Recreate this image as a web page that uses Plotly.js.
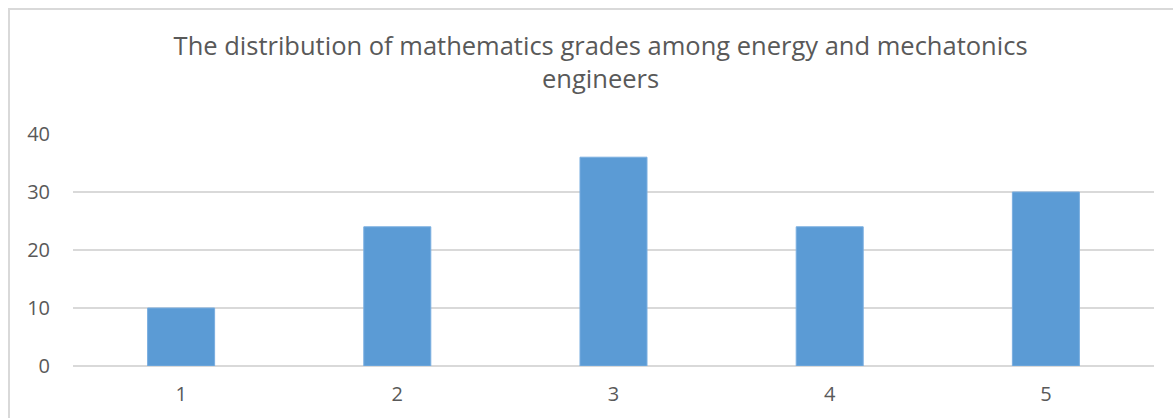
<!DOCTYPE html>
<html>
<head>
<meta charset="utf-8">
<script src="https://cdn.plot.ly/plotly-3.0.1.min.js"></script>
<style>
html,body{margin:0;padding:0;background:#fff;overflow:hidden;}
#frame{position:absolute;left:8px;top:8px;width:1200px;height:440px;border:2px solid #d9d9d9;box-sizing:border-box;}
#chart{position:absolute;left:0;top:0;width:1173px;height:418px;}
</style>
</head>
<body>
<div id="frame"></div>
<div id="chart"></div>
<script>
const categories = ['1', '2', '3', '4', '5'];
const values = [10, 24, 36, 24, 30];
const yTicks = [0, 10, 20, 30, 40];
const titleText = 'The distribution of mathematics grades among energy and mechatonics<br>engineers';

const trace = {
  type: 'bar',
  x: categories,
  y: values,
  marker: {color: '#5b9bd5', line: {color: '#7aaee0', width: 1}},
  hoverinfo: 'x+y'
};

const layout = {
  width: 1173,
  height: 418,
  paper_bgcolor: 'rgba(0,0,0,0)',
  plot_bgcolor: 'rgba(0,0,0,0)',
  margin: {l: 73, r: 19, t: 134, b: 52},
  bargap: 0.69,
  showlegend: false,
  font: {family: 'Open Sans, Liberation Sans, sans-serif', color: '#595959'},
  title: {
    text: titleText,
    font: {size: 25.5, color: '#595959', family: 'Open Sans, sans-serif'},
    x: 0.512,
    xref: 'container',
    xanchor: 'center',
    y: 0.868,
    yref: 'container',
    yanchor: 'top'
  },
  xaxis: {
    type: 'category',
    tickvals: categories,
    ticktext: categories,
    showgrid: false,
    showline: false,
    zeroline: false,
    ticks: '',
    tickfont: {size: 20, color: '#595959'},
    ticklabelstandoff: 14
  },
  yaxis: {
    range: [0, 40],
    tickvals: yTicks,
    ticktext: yTicks.map(String),
    showgrid: true,
    gridcolor: '#d9d9d9',
    gridwidth: 1.5,
    zeroline: true,
    zerolinecolor: '#d9d9d9',
    zerolinewidth: 1.5,
    showline: false,
    ticks: '',
    tickfont: {size: 20, color: '#595959'},
    ticklabelstandoff: 22
  }
};

Plotly.newPlot('chart', [trace], layout, {displayModeBar: false, staticPlot: true});
</script>
</body>
</html>
